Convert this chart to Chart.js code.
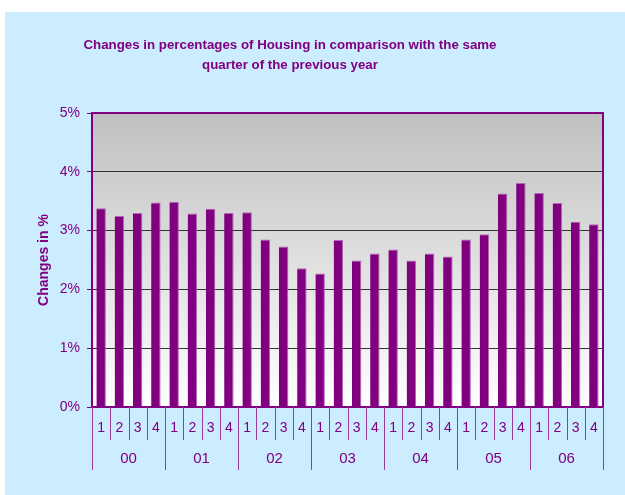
<!DOCTYPE html>
<html>
<head>
<meta charset="utf-8">
<script src="https://cdn.jsdelivr.net/npm/chart.js@4"></script>
<style>
  body { margin: 0; background: #fff; }
  canvas { display: block; }
</style>
</head>
<body>
<canvas id="housingChart" width="625" height="495"></canvas>
<script>
const titleLines = [
  "Changes in percentages of Housing in comparison with the same",
  "quarter of the previous year"
];
const quarters = [
  "1", "2", "3", "4", "1", "2", "3", "4", "1", "2", "3", "4", "1", "2",
  "3", "4", "1", "2", "3", "4", "1", "2", "3", "4", "1", "2", "3", "4"
];
const years = ["00", "01", "02", "03", "04", "05", "06"];
const changes = [
  3.38, 3.25, 3.30, 3.48, 3.49, 3.29, 3.37, 3.30, 3.31, 2.85, 2.73, 2.36, 2.27, 2.84,
  2.49, 2.61, 2.68, 2.49, 2.61, 2.56, 2.85, 2.94, 3.63, 3.81, 3.64, 3.47, 3.15, 3.11
];

const purple = "#800080";
const fontName = "'Liberation Sans', Arial, sans-serif";

// background panel, plot gradient, title, axis grouping
const frame = {
  id: "frame",
  beforeDraw(chart) {
    const { ctx, chartArea: a } = chart;
    ctx.save();
    ctx.fillStyle = "#fff";
    ctx.fillRect(0, 0, chart.width, chart.height);
    ctx.fillStyle = "#CCECFF";
    ctx.fillRect(5, 12, chart.width - 5, chart.height - 12);

    const g = ctx.createLinearGradient(0, a.top, 0, a.bottom);
    g.addColorStop(0, "#C0C0C0");
    g.addColorStop(1, "#FFFFFF");
    ctx.fillStyle = g;
    ctx.fillRect(a.left, a.top, a.right - a.left, a.bottom - a.top);

    ctx.fillStyle = purple;
    ctx.font = "bold 13.3px " + fontName;
    ctx.textAlign = "center";
    ctx.textBaseline = "middle";
    titleLines.forEach((t, i) => ctx.fillText(t, 290, 45 + i * 20));
    ctx.restore();
  },
  afterDraw(chart) {
    const { ctx, chartArea: a, scales: { x } } = chart;
    ctx.save();
    ctx.strokeStyle = purple;
    ctx.lineWidth = 2;
    ctx.strokeRect(a.left, a.top, a.right - a.left, a.bottom - a.top);

    const half = (x.getPixelForValue(1) - x.getPixelForValue(0)) / 2;
    ctx.strokeStyle = "#9a3a9a";
    ctx.lineWidth = 1;
    for (let i = 0; i <= quarters.length; i++) {
      const px = Math.round(i < quarters.length ? x.getPixelForValue(i) - half
        : x.getPixelForValue(i - 1) + half) + 0.5;
      const len = i % 4 === 0 ? 63 : 33;
      ctx.beginPath();
      ctx.moveTo(px, a.bottom);
      ctx.lineTo(px, a.bottom + len);
      ctx.stroke();
    }

    ctx.fillStyle = purple;
    ctx.font = "15px " + fontName;
    ctx.textAlign = "center";
    ctx.textBaseline = "middle";
    years.forEach((yr, k) => {
      const cx = (x.getPixelForValue(k * 4) + x.getPixelForValue(k * 4 + 3)) / 2;
      ctx.fillText(yr, cx, 459);
    });
    ctx.restore();
  }
};

new Chart(document.getElementById("housingChart"), {
  type: "bar",
  data: {
    labels: quarters,
    datasets: [{
      label: "Changes in %",
      data: changes,
      backgroundColor: purple,
      borderColor: "#B366B3",
      borderWidth: { top: 1, right: 1, left: 0, bottom: 0 },
      borderSkipped: false,
      categoryPercentage: 1,
      barPercentage: 0.52
    }]
  },
  options: {
    responsive: false,
    animation: false,
    devicePixelRatio: 1,
    layout: { padding: { left: 5, top: 113, right: 22, bottom: 0 } },
    plugins: {
      legend: { display: false },
      tooltip: { enabled: false }
    },
    scales: {
      x: {
        afterFit: (s) => { s.height = 88; },
        grid: { display: false, drawTicks: false },
        border: { display: false },
        ticks: {
          color: purple,
          font: { family: fontName, size: 14 },
          padding: 13,
          maxRotation: 0,
          autoSkip: false
        }
      },
      y: {
        min: 0,
        max: 5,
        afterFit: (s) => { s.width = 87; },
        border: { display: false },
        grid: { color: "#333", tickColor: purple, tickLength: 5 },
        ticks: {
          stepSize: 1,
          color: purple,
          padding: 7,
          font: { family: fontName, size: 14 },
          callback: (v) => v + "%"
        },
        title: {
          display: true,
          text: "Changes in %",
          color: purple,
          font: { family: fontName, size: 14, weight: "bold" },
          padding: { top: 31, bottom: 0 }
        }
      }
    }
  },
  plugins: [frame]
});
</script>
</body>
</html>
